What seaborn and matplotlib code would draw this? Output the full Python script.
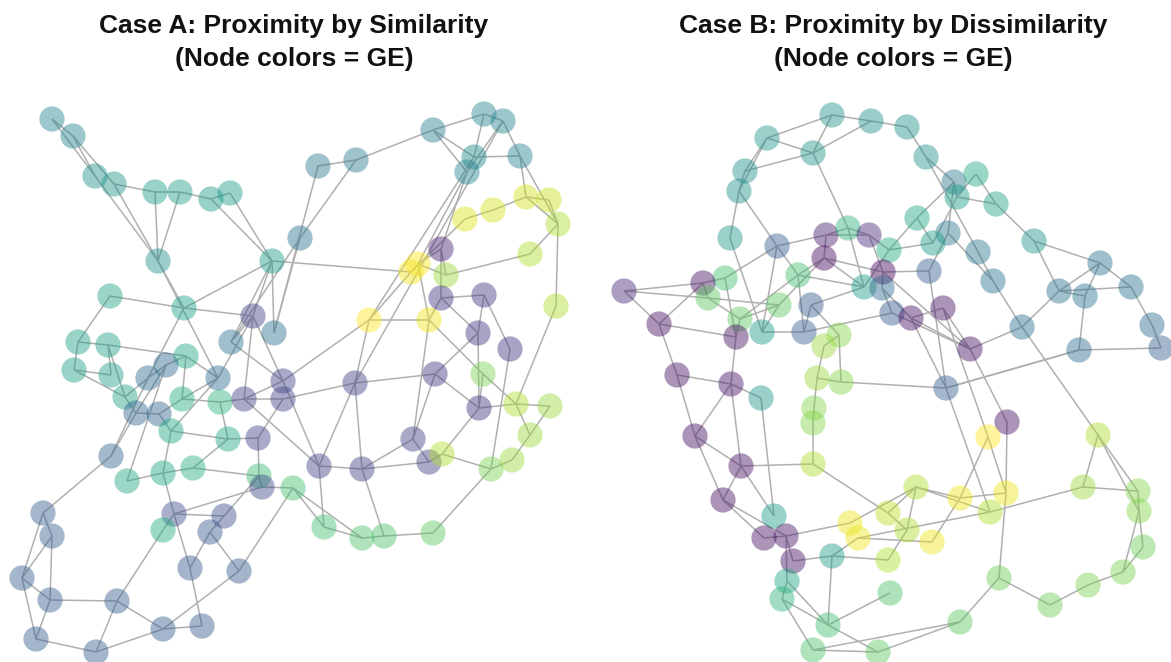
import numpy as np
import pandas as pd
import matplotlib
matplotlib.use("Agg")
import matplotlib.pyplot as plt
from matplotlib.collections import LineCollection
import seaborn as sns

# ---------------- Case A (proximity by similarity) ----------------
a_x = [52,73,95,114,155,180,211,230,158,272, 110,184,253,274,231,78,108,74,111,186,
       166,148,218,283,318,356,433,484,503,474, 520,467,300,465,493,526,549,558,441,530,
       418,411,446,441,484,556,369,429,478,510, 435,483,355,125,136,182,220,244,283,159,
       171,228,258,111,127,163,193,259,262,293, 43,52,174,224,163,210,190,239,22,50,
       117,163,202,36,96,479,516,550,530,413, 429,442,319,362,491,512,324,362,384,433]
a_y = [119,136,176,184,192,192,199,193,261,261, 296,308,316,333,342,342,345,370,375,356,
       365,378,378,381,166,160,130,114,121,157, 156,172,238,219,210,197,200,224,249,254,
       264,272,275,298,295,306,320,320,333,349, 374,374,383,397,413,399,402,399,399,414,
       431,439,438,456,481,473,468,476,487,488, 513,536,514,516,530,532,568,571,578,600,
       601,629,626,639,652,408,404,406,435,439, 462,454,466,469,469,460,527,538,536,533]
a_ge = [0.45,0.45,0.5,0.52,0.55,0.55,0.55,0.55,0.5,0.55, 0.58,0.57,0.2,0.38,0.38,0.57,0.57,0.57,0.57,0.6,
        0.35,0.35,0.35,0.2,0.4,0.4,0.42,0.45,0.45,0.48, 0.45,0.45,0.38,0.95,0.93,0.93,0.92,0.88,0.1,0.88,
        1.0,0.98,0.85,0.15,0.15,0.88,1.0,0.98,0.15,0.15, 0.15,0.8,0.2,0.58,0.33,0.62,0.65,0.2,0.2,0.33,
        0.6,0.6,0.2,0.33,0.6,0.6,0.62,0.68,0.22,0.7, 0.3,0.3,0.24,0.24,0.62,0.27,0.28,0.28,0.3,0.3,
        0.3,0.3,0.28,0.3,0.3,0.15,0.88,0.85,0.85,0.2, 0.2,0.88,0.2,0.2,0.8,0.85,0.7,0.72,0.72,0.75]
a_edges = [(0,1),(0,2),(1,2),(1,3),(2,8),(3,8),(3,4),(4,5),(5,6),(6,7),(4,8),(5,8),(6,9),(7,9),(8,11),
           (8,22),(9,11),(9,12),(9,13),(9,41),(9,14),(10,11),(10,15),(11,12),(11,21),(12,14),(12,22),
           (12,57),(13,32),(13,24),(15,16),(15,17),(16,18),(17,18),(16,19),(16,53),(17,53),(19,20),
           (19,22),(19,55),(20,21),(20,54),(14,23),(12,23),
           (24,25),(25,32),(25,26),(26,27),(26,29),(26,31),(27,28),(27,29),(28,30),(29,30),(28,31),
           (30,37),(30,35),(31,40),(29,46),(28,52),(32,14),
           (33,34),(34,35),(35,36),(36,37),(35,37),(37,45),(37,39),(39,42),(38,40),(38,43),(38,31),
           (40,47),(41,46),(41,40),(33,41),(42,38),(43,44),(43,48),(44,48),(44,49),(48,50),(48,85),
           (49,94),(45,86),(46,47),(46,52),(47,89),(46,23),(47,51),(51,86),(51,85),(42,40),(43,47),
           (53,54),(53,21),(54,59),(54,63),(55,56),(55,59),(56,57),(57,58),(57,23),(58,52),(59,60),
           (60,61),(60,65),(61,62),(61,66),(62,67),(62,58),(63,70),(63,21),(64,65),(65,66),(65,72),
           (66,67),(67,68),(68,69),(68,72),(69,96),(69,97),(70,71),(70,78),(71,78),(71,79),(72,73),
           (72,74),(72,76),(73,75),(73,67),(74,80),(75,76),(75,77),(76,82),(77,81),(77,69),(78,79),
           (78,83),(79,80),(79,83),(80,81),(80,84),(81,82),(83,84),(84,81),(64,20),(55,22),(56,61),
           (60,22),
           (52,92),(52,93),(92,93),(92,23),(92,96),(93,89),(93,98),(89,90),(90,91),(91,94),(91,85),
           (85,86),(86,87),(86,88),(87,88),(88,95),(94,95),(94,99),(96,97),(97,98),(98,99),(93,90),
           (92,57),(52,50),(50,85),(89,50)]

# ---------------- Case B (proximity by dissimilarity) ----------------
b_x = [832,871,907,767,813,745,739,926,730,777, 826,848,869,824,889,883,864,882,892,798,
       725,703,708,624,779,811,659,740,762,736, 804,839,824,677,731,817,841,954,976,957,
       996,917,948,933,1034,978,1100,929,993,1059, 1085,1131,943,911,1022,1152,970,1079,1161,946,
       761,814,813,695,741,813,723,774,888,850, 858,764,786,793,832,888,787,782,890,828,
       813,878,1007,988,1098,916,960,1006,990,1083, 1138,1139,907,932,1143,999,1123,1088,1050,960]
b_y = [115,121,127,138,153,171,191,157,238,246, 235,228,235,258,250,272,287,288,313,275,
       278,283,298,291,305,305,324,319,332,337, 332,335,346,375,384,378,382,182,174,197,
       204,218,233,243,241,252,263,271,281,291, 296,287,308,318,327,325,349,350,348,388,
       398,408,423,436,466,464,500,516,513,523, 538,538,536,561,556,560,581,599,593,625,
       650,652,422,437,435,487,498,493,512,487, 491,511,530,542,547,578,572,585,605,622]
b_ge = [0.5,0.5,0.5,0.52,0.52,0.5,0.5,0.5,0.53,0.3, 0.08,0.65,0.12,0.02,0.62,0.02,0.55,0.35,0.28,0.7,
        0.7,0.05,0.75,0.12,0.75,0.28,0.05,0.75,0.55,0.05, 0.3,0.82,0.85,0.05,0.05,0.85,0.82,0.4,0.6,0.55,
        0.58,0.6,0.4,0.55,0.5,0.4,0.38,0.3,0.38,0.38, 0.38,0.38,0.05,0.05,0.38,0.35,0.05,0.35,0.3,0.3,
        0.52,0.82,0.82,0.05,0.05,0.88,0.05,0.55,0.9,0.97, 0.97,0.05,0.05,0.05,0.55,0.88,0.6,0.65,0.72,0.7,
        0.72,0.75,0.05,1.0,0.88,0.88,0.97,0.97,0.88,0.85, 0.82,0.82,0.88,0.97,0.78,0.78,0.8,0.8,0.78,0.75]
b_edges = [(0,1),(0,3),(0,4),(1,2),(1,4),(3,4),(3,5),(3,6),(5,6),(4,5),(4,11),(6,8),(6,9),(8,28),
           (9,10),(9,20),(9,28),(10,11),(10,13),(11,12),(12,14),(12,15),(13,15),(13,19),(13,24),
           (14,16),(14,41),(15,17),(16,19),(16,25),(17,18),(20,21),(21,22),(21,23),(21,26),(22,24),
           (22,27),(23,26),(26,29),(26,33),(29,34),(29,27),(27,19),(28,24),(25,30),(25,31),(30,18),
           (31,32),(32,35),(31,36),(33,34),(34,60),(2,7),(7,37),(7,45),(37,39),(37,41),(38,39),
           (38,40),(39,40),(39,43),(37,42),(40,44),(41,43),(42,47),(42,48),(43,14),(44,46),(44,49),
           (45,48),(46,49),(46,50),(46,51),(49,50),(49,51),(50,57),(51,55),(55,58),(57,58),(57,59),
           (48,54),(52,53),(52,56),(53,56),(54,56),(54,49),(15,47),(17,53),(15,56),(53,59),(18,56),
           (33,63),(34,63),(34,64),(60,67),(63,64),(63,66),(64,66),(64,65),(64,67),(66,71),(66,72),
           (71,72),(72,69),(72,73),(72,76),(73,74),(74,75),(74,79),(76,77),(76,79),(77,79),(77,80),
           (79,78),(79,81),(80,81),(61,62),(61,35),(62,65),(65,68),(35,36),(36,59),(59,57),(82,56),
           (83,52),(84,54),(84,89),(84,90),(84,91),(89,90),(89,88),(90,91),(91,94),(91,96),(94,96),
           (96,97),(97,98),(98,95),(95,99),(95,87),(99,80),(99,81),(82,87),(83,86),(83,87),(85,86),
           (85,88),(86,93),(86,87),(85,68),(85,92),(92,75),(92,68),(85,69),(88,70),(70,74),(93,70),
           (20,29),(24,27),(19,30),(10,12),(13,16),(47,59),(23,22),(28,30),(11,16),(9,19),(59,88)]

titles = ["Case A: Proximity by Similarity\n(Node colors = GE)",
          "Case B: Proximity by Dissimilarity\n(Node colors = GE)"]

sns.set_theme(style="white")
plt.rcParams['font.family'] = ['Liberation Sans', 'DejaVu Sans']

W, H = 1171, 662
fig = plt.figure(figsize=(W / 100, H / 100), dpi=100)

top = 95
panels = [
    (a_x, a_y, a_ge, a_edges, (0, 590), titles[0], 294),
    (b_x, b_y, b_ge, b_edges, (595, 1171), titles[1], 893),
]

for xs, ys, ge, edges, (x0, x1), title, tcx in panels:
    ax = fig.add_axes([x0 / W, 0, (x1 - x0) / W, (H - top) / H])
    df = pd.DataFrame({"x": xs, "y": ys, "GE": ge})
    segs = [[(xs[i], ys[i]), (xs[j], ys[j])] for i, j in edges]
    ax.add_collection(LineCollection(segs, colors="#b0b0b0", linewidths=1.1, zorder=1))
    sns.scatterplot(data=df, x="x", y="y", hue="GE", palette="viridis", hue_norm=(0, 1),
                    s=330, alpha=0.45, linewidth=0, legend=False, ax=ax, zorder=2, clip_on=False)
    ax.set_xlim(x0, x1)
    ax.set_ylim(H, top)
    ax.set_axis_off()
    ax.set_title(title, fontsize=19, fontweight="bold", x=(tcx - x0) / (x1 - x0),
                 pad=21, linespacing=1.45, color="#111111")

fig.savefig("out.png", dpi=100)
